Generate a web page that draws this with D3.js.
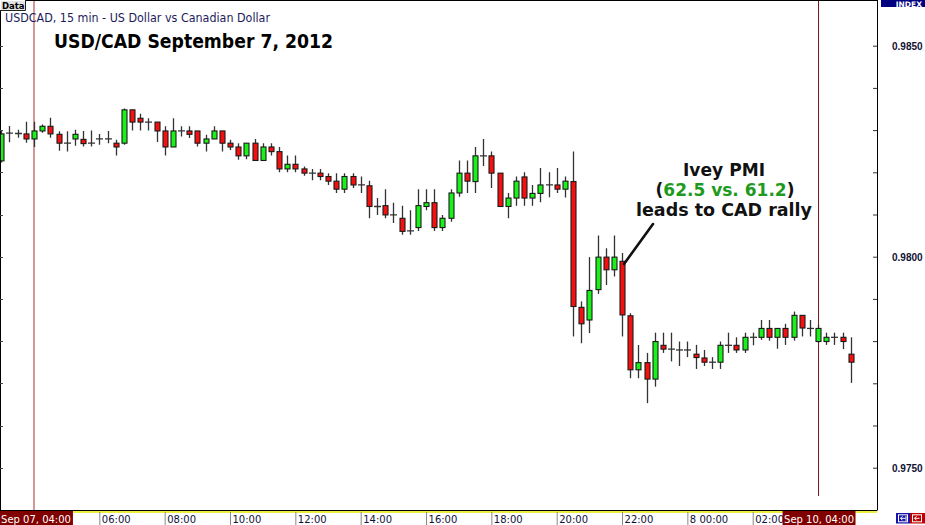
<!DOCTYPE html>
<html><head><meta charset="utf-8">
<script src="https://cdn.jsdelivr.net/npm/d3@7"></script>
<style>
html,body{margin:0;padding:0;background:#fff;}
svg{display:block;}
</style></head>
<body>
<svg id="chart" width="925" height="525"></svg>
<script>
// ---- data: 15-min candles, first bar = Sep 07 03:00 ----
const opens = [0.98227,0.98293,0.98292,0.98291,0.98279,0.98298,0.98309,0.98290,0.98269,0.98279,
0.98278,0.98269,0.98279,0.98279,0.98269,0.98269,0.98348,0.98328,0.98319,0.98319,
0.98298,0.98260,0.98298,0.98298,0.98298,0.98269,0.98279,0.98298,0.98269,0.98260,
0.98239,0.98269,0.98228,0.98260,0.98249,0.98208,0.98219,0.98208,0.98198,0.98198,
0.98190,0.98179,0.98160,0.98190,0.98170,0.98168,0.98119,0.98121,0.98099,0.98091,
0.98061,0.98069,0.98119,0.98128,0.98069,0.98091,0.98151,0.98198,0.98178,0.98239,
0.98239,0.98198,0.98119,0.98139,0.98189,0.98139,0.98150,0.98170,0.98170,0.98160,
0.98178,0.97880,0.97850,0.97922,0.97999,0.97969,0.97989,0.97860,0.97732,0.97749,
0.97710,0.97790,0.97781,0.97779,0.97779,0.97769,0.97760,0.97750,0.97750,0.97790,
0.97790,0.97779,0.97809,0.97809,0.97830,0.97809,0.97830,0.97809,0.97861,0.97830,
0.97799,0.97799,0.97809,0.97809,0.97769];
const highs = [0.98298,0.98310,0.98301,0.98320,0.98320,0.98313,0.98329,0.98297,0.98297,0.98301,
0.98298,0.98299,0.98291,0.98298,0.98277,0.98351,0.98348,0.98339,0.98328,0.98319,
0.98309,0.98328,0.98309,0.98309,0.98298,0.98289,0.98309,0.98298,0.98277,0.98269,
0.98269,0.98279,0.98269,0.98269,0.98260,0.98240,0.98240,0.98214,0.98208,0.98208,
0.98198,0.98198,0.98198,0.98198,0.98190,0.98180,0.98139,0.98160,0.98128,0.98121,
0.98110,0.98160,0.98160,0.98160,0.98099,0.98160,0.98228,0.98228,0.98260,0.98279,
0.98249,0.98198,0.98151,0.98190,0.98200,0.98170,0.98210,0.98200,0.98210,0.98190,
0.98249,0.97894,0.97999,0.98050,0.98020,0.98050,0.98009,0.97866,0.97791,0.97772,
0.97820,0.97820,0.97820,0.97799,0.97799,0.97791,0.97779,0.97762,0.97799,0.97820,
0.97809,0.97820,0.97820,0.97850,0.97850,0.97830,0.97841,0.97870,0.97861,0.97850,
0.97839,0.97820,0.97820,0.97820,0.97809];
const lows = [0.98223,0.98271,0.98282,0.98270,0.98260,0.98294,0.98282,0.98251,0.98249,0.98263,
0.98261,0.98261,0.98265,0.98269,0.98240,0.98265,0.98299,0.98299,0.98299,0.98272,
0.98240,0.98260,0.98285,0.98281,0.98261,0.98249,0.98279,0.98249,0.98253,0.98230,
0.98231,0.98228,0.98228,0.98240,0.98200,0.98200,0.98200,0.98192,0.98181,0.98181,
0.98170,0.98151,0.98151,0.98163,0.98151,0.98091,0.98099,0.98091,0.98080,0.98052,
0.98052,0.98061,0.98110,0.98061,0.98061,0.98083,0.98142,0.98151,0.98151,0.98215,
0.98163,0.98119,0.98091,0.98121,0.98121,0.98121,0.98129,0.98141,0.98151,0.98140,
0.97811,0.97795,0.97819,0.97912,0.97933,0.97953,0.97811,0.97712,0.97712,0.97653,
0.97692,0.97772,0.97752,0.97741,0.97762,0.97734,0.97741,0.97734,0.97734,0.97772,
0.97772,0.97772,0.97790,0.97803,0.97801,0.97782,0.97791,0.97801,0.97811,0.97811,
0.97796,0.97791,0.97791,0.97781,0.97701];
const closes = [0.98291,0.98293,0.98292,0.98279,0.98298,0.98309,0.98291,0.98269,0.98269,0.98290,
0.98268,0.98269,0.98279,0.98279,0.98260,0.98348,0.98319,0.98319,0.98319,0.98298,
0.98260,0.98298,0.98298,0.98290,0.98269,0.98279,0.98298,0.98269,0.98260,0.98239,
0.98269,0.98228,0.98260,0.98249,0.98208,0.98219,0.98208,0.98198,0.98198,0.98190,
0.98179,0.98160,0.98190,0.98170,0.98170,0.98119,0.98119,0.98099,0.98099,0.98060,
0.98061,0.98121,0.98128,0.98069,0.98091,0.98151,0.98198,0.98179,0.98239,0.98239,
0.98198,0.98119,0.98139,0.98179,0.98139,0.98150,0.98170,0.98170,0.98160,0.98179,
0.97882,0.97841,0.97920,0.97999,0.97969,0.97999,0.97862,0.97732,0.97749,0.97710,
0.97799,0.97781,0.97781,0.97779,0.97779,0.97761,0.97750,0.97750,0.97790,0.97790,
0.97779,0.97809,0.97809,0.97830,0.97809,0.97830,0.97809,0.97861,0.97831,0.97830,
0.97830,0.97809,0.97809,0.97799,0.97750];

const timeTickBars = [12,20,28,36,44,52,60,68,76,84,92,100];
const timeTickLabels = ["06:00","08:00","10:00","12:00","14:00","16:00","18:00","20:00","22:00","8 00:00","02:00","04:00"];
const markerBars = [4,100];
const markerLabels = ["Sep 07, 04:00","Sep 10, 04:00"];
const priceTicks = [0.975,0.976,0.977,0.978,0.979,0.980,0.981,0.982,0.983,0.984,0.985];
const priceLabelTicks = [0.975,0.980,0.985];
const subtitle = "USDCAD, 15 min - US Dollar vs Canadian Dollar";
const title = "USD/CAD September 7, 2012";
const annLine1 = "Ivey PMI";
const annLine2 = ["(", "62.5 vs. 61.2", ")"];
const annLine3 = "leads to CAD rally";

// ---- layout ----
const W = 925, H = 525;
const plotR = 877, plotB = 510.5;
const svg = d3.select("#chart");
svg.append("rect").attr("width",W).attr("height",H).attr("fill","#fff");

const x = d3.scaleLinear().domain([-0.163, 107.22]).range([0, plotR]);
const y = d3.scaleLinear().domain([0.975, 0.985]).range([467.7, 45.7]);

const candles = opens.map((o,i)=>({i, o, h:highs[i], l:lows[i], c:closes[i]}));

const plot = svg.append("g");
plot.append("clipPath").attr("id","clip").append("rect").attr("x",1).attr("y",1).attr("width",plotR-1).attr("height",plotB-1);

// marker vertical lines
plot.append("line").attr("x1",x(markerBars[0])).attr("x2",x(markerBars[0])).attr("y1",0).attr("y2",plotB)
  .attr("stroke","#c46a6a").attr("stroke-width",1.4);
plot.append("line").attr("x1",x(markerBars[1])+0.5).attr("x2",x(markerBars[1])+0.5).attr("y1",0).attr("y2",496)
  .attr("stroke","#7a1414").attr("stroke-width",1);

const cg = plot.append("g").attr("clip-path","url(#clip)");
const bw = 5;
cg.selectAll("line.wick").data(candles).join("line").attr("class","wick")
  .attr("x1",d=>Math.round(x(d.i))+0.5).attr("x2",d=>Math.round(x(d.i))+0.5)
  .attr("y1",d=>y(d.h)).attr("y2",d=>y(d.l))
  .attr("stroke","#333").attr("stroke-width",1.3);
cg.selectAll("rect.body").data(candles.filter(d=>d.o!==d.c)).join("rect").attr("class","body")
  .attr("x",d=>Math.round(x(d.i))+0.5-bw/2)
  .attr("y",d=>y(Math.max(d.o,d.c)))
  .attr("width",bw)
  .attr("height",d=>Math.max(1,Math.abs(y(d.o)-y(d.c))))
  .attr("fill",d=>d.c>d.o?"#19f219":"#f51010")
  .attr("stroke","#1a1a1a").attr("stroke-width",1.1);
cg.selectAll("line.doji").data(candles.filter(d=>d.o===d.c)).join("line").attr("class","doji")
  .attr("x1",d=>Math.round(x(d.i))+0.5-3.5).attr("x2",d=>Math.round(x(d.i))+0.5+3.5)
  .attr("y1",d=>y(d.o)).attr("y2",d=>y(d.o))
  .attr("stroke","#333").attr("stroke-width",1.3);

// plot border
svg.append("line").attr("x1",0.5).attr("x2",0.5).attr("y1",0).attr("y2",plotB).attr("stroke","#000");
svg.append("line").attr("x1",0).attr("x2",plotR).attr("y1",0.5).attr("y2",0.5).attr("stroke","#000");
svg.append("line").attr("x1",0).attr("x2",plotR).attr("y1",plotB).attr("y2",plotB).attr("stroke","#000").attr("stroke-width",1.2);
svg.append("line").attr("x1",72).attr("x2",plotR).attr("y1",512).attr("y2",512).attr("stroke","#e8e800").attr("stroke-width",1.6);

// left small ticks
svg.append("g").selectAll("line").data(priceTicks).join("line")
  .attr("x1",0).attr("x2",3).attr("y1",d=>Math.round(y(d))+0.5).attr("y2",d=>Math.round(y(d))+0.5)
  .attr("stroke","#444");

// right axis
const yAxis = d3.axisRight(y).tickValues(priceTicks).tickSize(-4).tickPadding(15)
  .tickFormat(d=>priceLabelTicks.some(v=>Math.abs(v-d)<1e-9)?d3.format(".4f")(d):"");
const ya = svg.append("g").attr("transform",`translate(${plotR},0)`).call(yAxis);
ya.select(".domain").attr("stroke","#000").attr("d",`M0.5,0V${plotB}`);
ya.selectAll(".tick line").attr("stroke","#333");
ya.selectAll(".tick text").attr("font-family","Liberation Sans, Arial, sans-serif").attr("font-weight","bold")
  .attr("font-size","10px").attr("fill","#111133").attr("dy","0.35em");

// INDEX header
svg.append("rect").attr("x",881).attr("y",0).attr("width",44).attr("height",7).attr("fill","#000080");
svg.append("text").attr("x",922).attr("y",6.5).attr("text-anchor","end").attr("fill","#fff")
  .attr("font-family","DejaVu Sans, sans-serif").attr("font-weight","bold").attr("font-size","7.5px").text("INDEX");

// bottom time axis
const xAxis = d3.axisBottom(x).tickValues(timeTickBars).tickSize(13).tickPadding(0)
  .tickFormat((d,k)=>timeTickLabels[k]);
const xa = svg.append("g").attr("transform","translate(0,512)").call(xAxis);
xa.select(".domain").remove();
xa.selectAll(".tick line").attr("stroke","#888");
xa.selectAll(".tick text").attr("text-anchor","start").attr("x",2).attr("y",0).attr("dy","10.5px")
  .attr("font-family","DejaVu Sans, Verdana, sans-serif").attr("font-size","10px").attr("fill","#10103a");

// marker labels
markerBars.forEach((b,k)=>{
  const cx = x(b);
  const g = svg.append("g");
  const t = g.append("text").attr("x",Math.max(cx+1, 36)).attr("y",522.5).attr("text-anchor","middle")
    .attr("font-family","DejaVu Sans, Verdana, sans-serif").attr("font-size","10px").attr("fill","#fff")
    .text(markerLabels[k]);
  const bb = t.node().getBBox();
  g.insert("rect","text").attr("x",Math.max(0,bb.x-1.5)).attr("y",511).attr("width",bb.width+3).attr("height",14).attr("fill","#800000");
});

// bottom right icons
svg.append("rect").attr("x",896).attr("y",513).attr("width",14).attr("height",10.5).attr("fill","#1414a8");
svg.append("rect").attr("x",910).attr("y",513).attr("width",15).attr("height",10.5).attr("fill","#c00000");
svg.append("rect").attr("x",898.5).attr("y",514.8).attr("width",9).attr("height",7).attr("fill","none").attr("stroke","#fff").attr("stroke-width",1);
svg.append("rect").attr("x",912.5).attr("y",514.8).attr("width",9).attr("height",7).attr("fill","none").attr("stroke","#fff").attr("stroke-width",1);
svg.append("path").attr("d","M900.5,518.3h5M902.5,516.3l-2,2l2,2M906,516v5").attr("stroke","#fff").attr("fill","none").attr("stroke-width",1);
svg.append("path").attr("d","M914.5,518.3h5M916.5,516.3l-2,2l2,2").attr("stroke","#fff").attr("fill","none").attr("stroke-width",1);

// Data button
svg.append("rect").attr("x",0).attr("y",0).attr("width",25).attr("height",10).attr("fill","#e4e4e4");
svg.append("path").attr("d","M0.5,10V0.5H25").attr("stroke","#fff").attr("fill","none");
svg.append("path").attr("d","M0,10.5H25.5V0").attr("stroke","#222").attr("fill","none");
svg.append("text").attr("x",2).attr("y",8.5).attr("font-family","DejaVu Sans, sans-serif").attr("font-weight","bold")
  .attr("font-size","8.5px").attr("fill","#000").text("Data");

// subtitle & title
svg.append("text").attr("x",5).attr("y",21.5).attr("font-family","DejaVu Sans, Verdana, sans-serif")
  .attr("font-size","11.5px").attr("fill","#1c1c5c").attr("textLength",265).attr("lengthAdjust","spacingAndGlyphs").text(subtitle);
svg.append("text").attr("x",54).attr("y",48).attr("font-family","DejaVu Sans, sans-serif").attr("font-weight","bold")
  .attr("font-size","19.5px").attr("fill","#000").attr("textLength",279).attr("lengthAdjust","spacingAndGlyphs").text(title);

// annotation
const ann = svg.append("g").attr("font-family","DejaVu Sans, sans-serif").attr("font-weight","bold")
  .attr("font-size","18px").attr("fill","#111").attr("text-anchor","middle");
ann.append("text").attr("x",724).attr("y",176).attr("textLength",82).attr("lengthAdjust","spacingAndGlyphs").text(annLine1);
const l2 = ann.append("text").attr("x",725).attr("y",196).attr("font-size","17px");
l2.append("tspan").text(annLine2[0]);
l2.append("tspan").attr("fill","#1e9a1e").text(annLine2[1]);
l2.append("tspan").text(annLine2[2]);
ann.append("text").attr("x",724).attr("y",216).attr("textLength",176).attr("lengthAdjust","spacingAndGlyphs").text(annLine3);
svg.append("line").attr("x1",653).attr("y1",224).attr("x2",624).attr("y2",264)
  .attr("stroke","#111").attr("stroke-width",2.6).attr("stroke-linecap","round");
</script>
</body></html>
